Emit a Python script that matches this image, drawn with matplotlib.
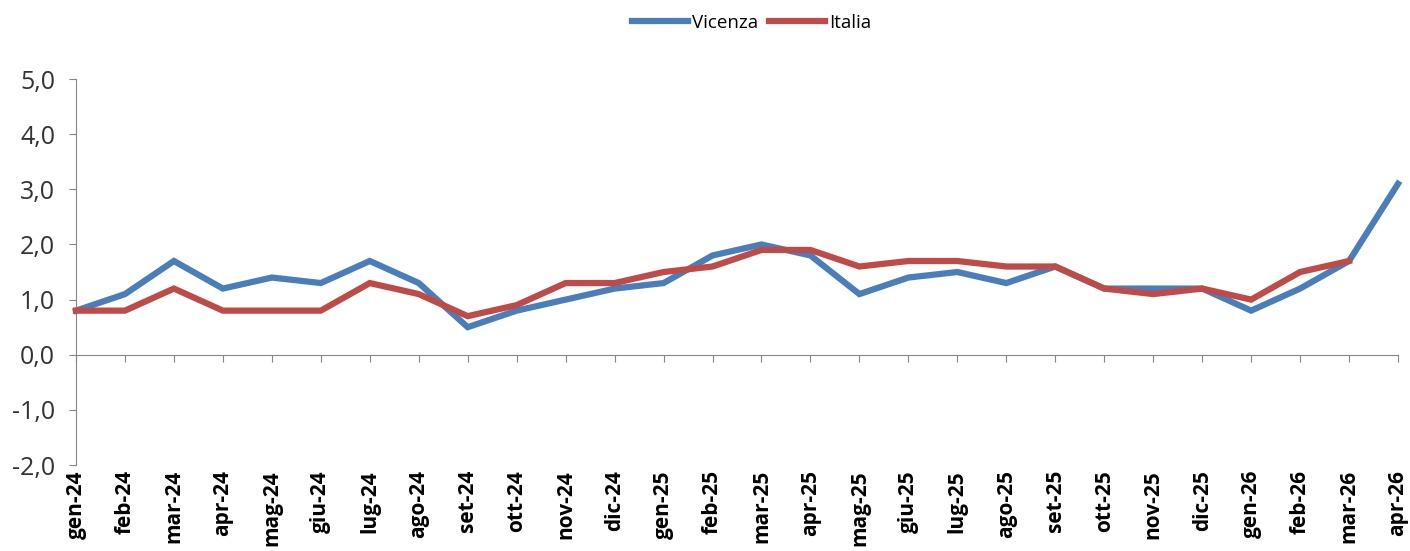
import matplotlib.pyplot as plt
from matplotlib.ticker import FuncFormatter

months = ['gen-24', 'feb-24', 'mar-24', 'apr-24', 'mag-24', 'giu-24', 'lug-24', 'ago-24',
          'set-24', 'ott-24', 'nov-24', 'dic-24', 'gen-25', 'feb-25', 'mar-25', 'apr-25',
          'mag-25', 'giu-25', 'lug-25', 'ago-25', 'set-25', 'ott-25', 'nov-25', 'dic-25',
          'gen-26', 'feb-26', 'mar-26', 'apr-26']
vicenza = [0.8, 1.1, 1.7, 1.2, 1.4, 1.3, 1.7, 1.3, 0.5, 0.8, 1.0, 1.2, 1.3, 1.8,
           2.0, 1.8, 1.1, 1.4, 1.5, 1.3, 1.6, 1.2, 1.2, 1.2, 0.8, 1.2, 1.7, 3.1]
italia = [0.8, 0.8, 1.2, 0.8, 0.8, 0.8, 1.3, 1.1, 0.7, 0.9, 1.3, 1.3, 1.5, 1.6,
          1.9, 1.9, 1.6, 1.7, 1.7, 1.6, 1.6, 1.2, 1.1, 1.2, 1.0, 1.5, 1.7]

plt.rcParams['font.family'] = ['Open Sans', 'DejaVu Sans']

fig = plt.figure(figsize=(14.1, 5.51), dpi=100)
ax = fig.add_axes([0.0539, 0.156, 0.9376, 0.7006])

x = list(range(len(months)))
ax.plot(x, vicenza, color='#4A7EBB', linewidth=4.5, label='Vicenza',
        solid_joinstyle='miter', clip_on=False, zorder=3)
ax.plot(x[:len(italia)], italia, color='#BE4B48', linewidth=4.5, label='Italia',
        solid_joinstyle='miter', clip_on=False, zorder=4)

ax.set_xlim(0, len(months) - 1)
ax.set_ylim(-2, 5)
ax.set_yticks(range(-2, 6))
ax.yaxis.set_major_formatter(FuncFormatter(lambda v, p: f'{v:.1f}'.replace('.', ',')))

for s in ['top', 'right']:
    ax.spines[s].set_visible(False)
ax.spines['left'].set_color('#868686')
ax.spines['bottom'].set_color('#868686')
ax.spines['bottom'].set_position(('data', 0))

ax.tick_params(axis='y', colors='#868686', length=5, labelsize=18, labelcolor='#333333', pad=10)
ax.set_xticks(x)
ax.set_xticklabels(months, rotation=90, fontsize=15, fontweight='bold')
ax.tick_params(axis='x', colors='#868686', length=5, labelcolor='#000000', pad=78)

ax.legend(loc='center', bbox_to_anchor=(0.511, 1.145), ncol=2, frameon=False,
          fontsize=13.5, handlelength=3.0, handletextpad=0.2, columnspacing=0.6)

fig.savefig('out.png', dpi=100)
